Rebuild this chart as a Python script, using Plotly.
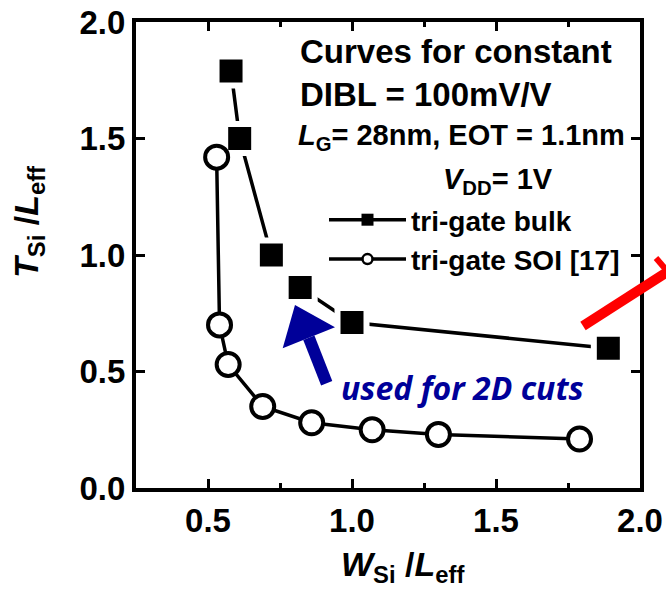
import plotly.graph_objects as go

# tri-gate bulk (filled squares)
bulk_w = [0.58, 0.61, 0.72, 0.82, 1.00, 1.89]
bulk_t = [1.79, 1.50, 1.00, 0.86, 0.71, 0.60]

# tri-gate SOI [17] (open circles)
soi_w = [0.53, 0.54, 0.57, 0.69, 0.86, 1.07, 1.30, 1.79]
soi_t = [1.42, 0.70, 0.53, 0.35, 0.28, 0.25, 0.23, 0.21]

x_ticks = [0.5, 1.0, 1.5, 2.0]
x_labels = ["0.5", "1.0", "1.5", "2.0"]
x_minor = [0.75, 1.25, 1.75]
y_ticks = [0.0, 0.5, 1.0, 1.5, 2.0]
y_labels = ["0.0", "0.5", "1.0", "1.5", "2.0"]

W, H = 666, 593
M = dict(l=136, r=26, t=22, b=105)
PW = W - M["l"] - M["r"]
PH = H - M["t"] - M["b"]


def fx(px):
    """pixel column -> paper x"""
    return (px - M["l"]) / PW


def fy(py):
    """pixel row -> paper y"""
    return (H - M["b"] - py) / PH


FONT = "Liberation Sans, Arial, sans-serif"
BLUE = "#000099"
RED = "#ff0000"

fig = go.Figure()

fig.add_trace(go.Scatter(
    x=bulk_w, y=bulk_t, mode="lines+markers", showlegend=False,
    line=dict(color="black", width=3.5),
    marker=dict(symbol="square", size=29, color="black",
                line=dict(color="white", width=6)),
))
fig.add_trace(go.Scatter(
    x=soi_w, y=soi_t, mode="lines+markers", showlegend=False,
    line=dict(color="black", width=3.5),
    marker=dict(symbol="circle", size=23, color="white",
                line=dict(color="black", width=4)),
))

# legend entries with smaller glyphs
fig.add_trace(go.Scatter(
    x=[None], y=[None], mode="lines+markers", name="tri-gate bulk",
    line=dict(color="black", width=3.5),
    marker=dict(symbol="square", size=12, color="black"),
))
fig.add_trace(go.Scatter(
    x=[None], y=[None], mode="lines+markers", name="tri-gate SOI [17]",
    line=dict(color="black", width=3.5),
    marker=dict(symbol="circle", size=10, color="white",
                line=dict(color="black", width=2.5)),
))

axis_common = dict(
    ticks="inside", ticklen=9, tickwidth=3, tickcolor="black",
    showline=True, linewidth=4, linecolor="black", mirror="ticks",
    showgrid=False, zeroline=False, automargin=False,
    tickfont=dict(family=FONT, size=33, color="black", weight="bold"),
)

fig.update_xaxes(
    range=[0.25, 2.0], tickmode="array", tickvals=x_ticks, ticktext=x_labels,
    minor=dict(tickmode="array", tickvals=x_minor, ticks="inside", ticklen=5,
               tickwidth=3, tickcolor="black", showgrid=False),
    **axis_common,
)
fig.update_yaxes(
    range=[0.0, 2.0], tickmode="array", tickvals=y_ticks, ticktext=y_labels,
    **axis_common,
)

txt = dict(family=FONT, color="black", weight="bold")
annotations = [
    dict(text="<i>T</i><sub>Si</sub> /<i>L</i><sub>eff</sub>",
         x=fx(28), y=fy(222), textangle=-90, font=dict(size=34, **txt),
         xanchor="center", yanchor="middle"),
    dict(text="<i>W</i><sub>Si</sub> /<i>L</i><sub>eff</sub>",
         x=fx(402), y=fy(566), font=dict(size=34, **txt),
         xanchor="center", yanchor="middle"),
    dict(text="Curves for constant", x=fx(298), y=fy(52),
         font=dict(size=33, **txt), xanchor="left", yanchor="middle"),
    dict(text="DIBL = 100mV/V", x=fx(298), y=fy(95),
         font=dict(size=33, **txt), xanchor="left", yanchor="middle"),
    dict(text="<i>L</i><sub>G</sub>= 28nm, EOT = 1.1nm", x=fx(296), y=fy(137),
         font=dict(size=29, **txt), xanchor="left", yanchor="middle"),
    dict(text="<i>V</i><sub>DD</sub>= 1V", x=fx(441), y=fy(181),
         font=dict(size=29, **txt), xanchor="left", yanchor="middle"),
    dict(text="<i>used for 2D cuts</i>", x=fx(339), y=fy(387),
         font=dict(family="Open Sans, sans-serif", size=32, color=BLUE,
                   weight="bold"),
         xanchor="left", yanchor="middle"),
]
for a in annotations:
    a.update(xref="paper", yref="paper", showarrow=False)

# blue arrow pointing at the cut-selected geometry
tip = (295, 305)
base_l = (282.7, 348.3)
base_r = (335, 327.3)
base_mid = ((base_l[0] + base_r[0]) / 2, (base_l[1] + base_r[1]) / 2)
tail = (326.7, 383.3)
head_path = "M {} {} L {} {} L {} {} Z".format(
    fx(tip[0]), fy(tip[1]), fx(base_l[0]), fy(base_l[1]),
    fx(base_r[0]), fy(base_r[1]))

shapes = [
    dict(type="line", xref="paper", yref="paper",
         x0=fx(tail[0]), y0=fy(tail[1]), x1=fx(base_mid[0]), y1=fy(base_mid[1]),
         line=dict(color=BLUE, width=12)),
    dict(type="path", xref="paper", yref="paper", path=head_path,
         fillcolor=BLUE, line=dict(color=BLUE, width=0)),
    # red pointer running off the right edge
    dict(type="line", xref="paper", yref="paper",
         x0=fx(583), y0=fy(326), x1=fx(700), y1=fy(251),
         line=dict(color=RED, width=10)),
    dict(type="line", xref="paper", yref="paper",
         x0=fx(656), y0=fy(258), x1=fx(668), y1=fy(272),
         line=dict(color=RED, width=6)),
]

fig.update_layout(
    width=W, height=H, margin=M,
    paper_bgcolor="white", plot_bgcolor="white",
    font=dict(family=FONT, color="black"),
    legend=dict(x=fx(324), y=fy(195), xanchor="left", yanchor="top",
                bgcolor="rgba(0,0,0,0)", borderwidth=0, tracegroupgap=0,
                itemwidth=77,
                font=dict(family=FONT, size=28, color="black", weight="bold")),
    annotations=annotations,
    shapes=shapes,
)

fig.write_html("out.html")
